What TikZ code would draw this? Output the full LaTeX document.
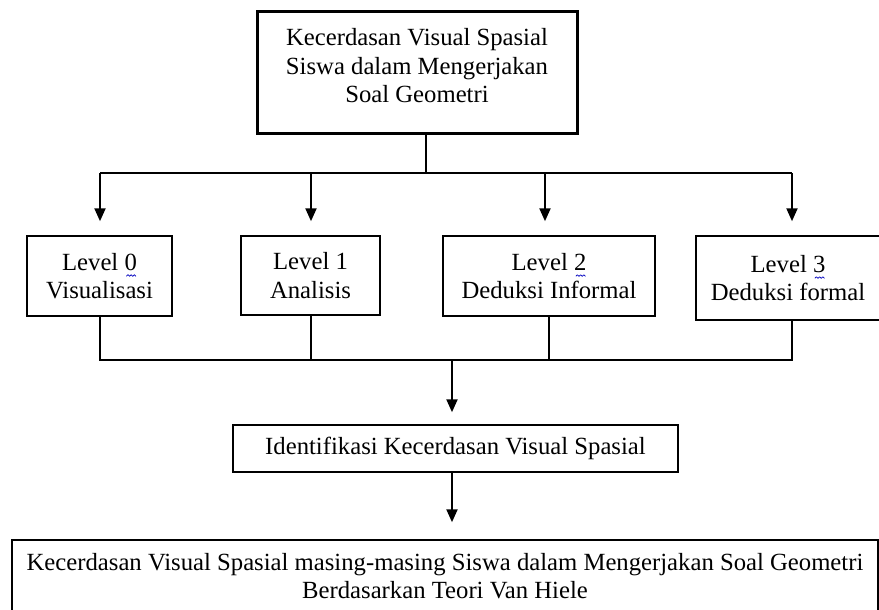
\documentclass[tikz,border=0pt]{standalone}
\usepackage{fontspec}
\setmainfont{Liberation Serif}
\usetikzlibrary{arrows.meta}
\newsavebox\sqbox
\sbox\sqbox{\tikz\draw[blue!75!black, line width=0.7pt, line join=round]
  (0,0) -- ++(1.6pt,1.6pt) -- ++(1.6pt,-1.6pt) -- ++(1.6pt,1.6pt) -- ++(1.6pt,-1.6pt)
  -- ++(1.6pt,1.6pt) -- ++(1.6pt,-1.6pt);}
\newcommand\wv[1]{\makebox[0pt][l]{\hspace{1.5pt}\raisebox{-6.5pt}[0pt][0pt]{\usebox\sqbox}}#1}
\begin{document}
\begin{tikzpicture}[x=1pt,y=-1pt,
  box/.style={draw, line width=1.5pt, align=center, inner sep=0pt, font=\fontsize{24.7}{28.5}\selectfont},
  conn/.style={line width=2.2pt},
  arr/.style={conn, -{Triangle[length=13pt,width=11pt]}}]
\useasboundingbox (0,0) rectangle (879,610);
\node[box, line width=3pt, minimum width=320pt, minimum height=121pt] (top) at (417,72.5)
  {\raisebox{4pt}[\height][\depth]{\begin{tabular}{@{}c@{}}Kecerdasan Visual Spasial\\Siswa dalam Mengerjakan\\Soal Geometri\end{tabular}}};
\node[box, minimum width=145pt, minimum height=80pt] (L0) at (99.5,276) {Level \wv{0}\\Visualisasi};
\node[box, minimum width=139pt, minimum height=79pt] (L1) at (310.5,275.5) {Level 1\\Analisis};
\node[box, minimum width=212pt, minimum height=80pt] (L2) at (549,276) {Level \wv{2}\\Deduksi Informal};
\node[box, minimum width=184pt, minimum height=84pt] (L3) at (788,278) {Level \wv{3}\\Deduksi formal};
\node[box, minimum width=445pt, minimum height=47pt] (id) at (455.5,448.5) {Identifikasi Kecerdasan Visual Spasial};
\node[box, minimum width=866pt, minimum height=72pt] (fin) at (445,576)
  {\raisebox{-3pt}[\height][\depth]{\begin{tabular}{@{}c@{}}Kecerdasan Visual Spasial masing-masing Siswa dalam Mengerjakan Soal Geometri\\Berdasarkan Teori Van Hiele\end{tabular}}};
% top distribution
\coordinate (s0) at (426,173);
\coordinate (a0) at (100,173);
\coordinate (a1) at (311,173);
\coordinate (a2) at (545,173);
\coordinate (a3) at (792,173);
\draw[conn] (top.south -| s0) -- (s0);
\draw[conn] (a0) -- (a3);
\draw[arr, shorten >=14pt] (a0) -- (a0 |- L0.north);
\draw[arr, shorten >=14pt] (a1) -- (a1 |- L1.north);
\draw[arr, shorten >=14pt] (a2) -- (a2 |- L2.north);
\draw[arr, shorten >=14pt] (a3) -- (a3 |- L3.north);
% bottom collection
\coordinate (c0) at (100,360);
\coordinate (c1) at (311,360);
\coordinate (c2) at (549,360);
\coordinate (c3) at (792,360);
\coordinate (m) at (452,360);
\draw[conn] (c0 |- L0.south) -- (c0) -- (c3) -- (c3 |- L3.south);
\draw[conn] (c1 |- L1.south) -- (c1);
\draw[conn] (c2 |- L2.south) -- (c2);
\draw[arr, shorten >=12pt] (m) -- (m |- id.north);
\draw[arr, shorten >=17pt] (m |- id.south) -- (m |- fin.north);
\end{tikzpicture}
\end{document}
